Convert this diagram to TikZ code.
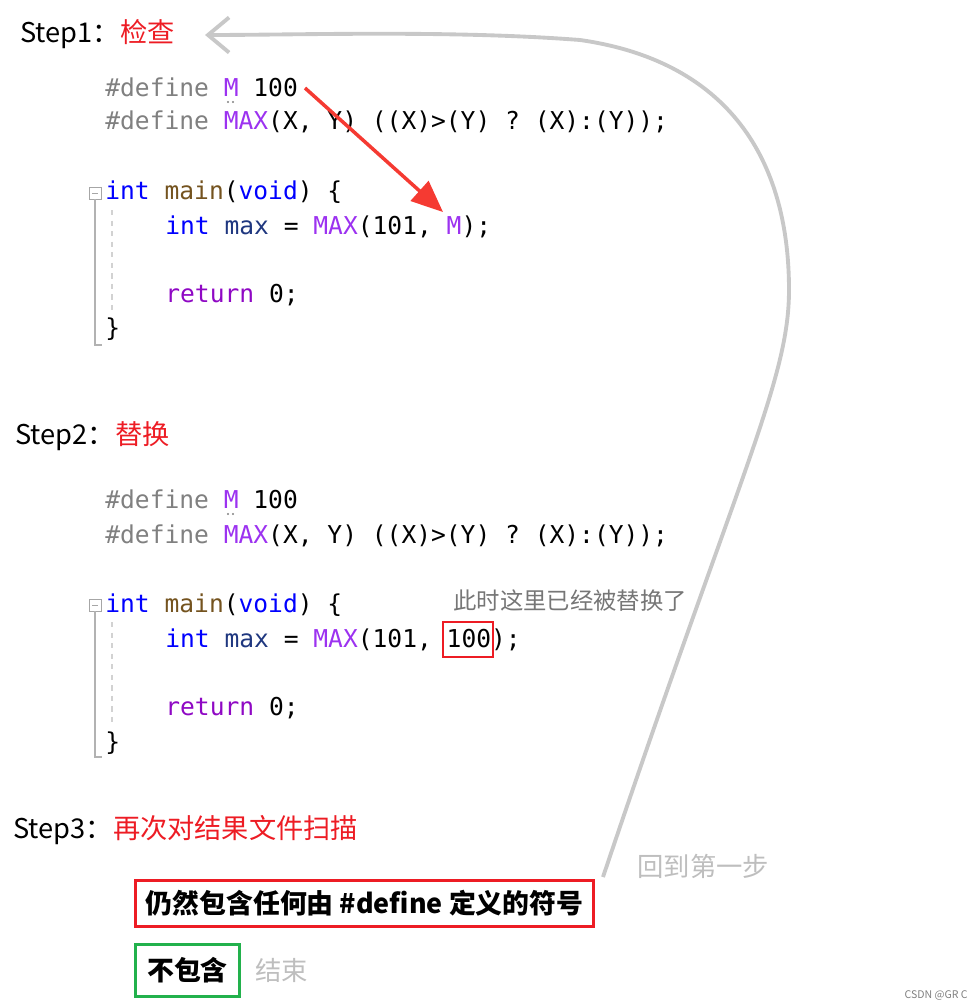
\documentclass[tikz,border=0pt]{standalone}
\usepackage{fontspec}
\setmainfont{Noto Sans CJK SC}
\setmonofont{DejaVu Sans Mono}
\usetikzlibrary{arrows.meta}
\usepackage{xcolor}
% Colors
\definecolor{stepRed}{RGB}{237,28,36}
\definecolor{arrowRed}{RGB}{245,58,50}
\definecolor{loopGray}{RGB}{200,200,200}
\definecolor{noteGray}{RGB}{118,118,118}
\definecolor{lightGray}{RGB}{190,190,190}
\definecolor{preGray}{RGB}{128,128,128}
\definecolor{macPurple}{RGB}{156,50,240}
\definecolor{kwBlue}{RGB}{0,0,255}
\definecolor{fnBrown}{RGB}{116,83,31}
\definecolor{varBlue}{RGB}{31,55,127}
\definecolor{retPurple}{RGB}{143,8,196}
\definecolor{boxGreen}{RGB}{34,177,76}
% Syntax colouring
\newcommand{\pre}[1]{\textcolor{preGray}{#1}}
\newcommand{\mac}[1]{\textcolor{macPurple}{#1}}
\newcommand{\kw}[1]{\textcolor{kwBlue}{#1}}
\newcommand{\fn}[1]{\textcolor{fnBrown}{#1}}
\newcommand{\vr}[1]{\textcolor{varBlue}{#1}}
\newcommand{\rt}[1]{\textcolor{retPurple}{#1}}
\tikzset{
    >=Stealth,
    % Texts
    steplbl/.style={anchor=base west, inner sep=0pt, font=\fontsize{15.5}{18}\selectfont},
    code/.style={anchor=base west, inner sep=0pt, font=\ttfamily\fontsize{14}{16}\selectfont},
    note/.style={anchor=west, inner sep=0pt, font=\fontsize{13.3}{16}\selectfont, text=noteGray},
    hint/.style={anchor=west, inner sep=0pt, font=\fontsize{15}{18}\selectfont, text=lightGray},
    % Editor gutter
    foldbox/.style={draw=gray!70, line width=0.5pt, minimum size=0.24cm, inner sep=0pt},
    gutter/.style={draw=gray!60, line width=0.8pt},
    guide/.style={draw=gray!35, dashed, line width=0.6pt},
    % Boxes & arrows
    condbox/.style={draw, line width=1.7pt, inner sep=0pt, font=\bfseries\fontsize{15.3}{18}\selectfont},
    loopflow/.style={draw=loopGray, line width=2.2pt, -{Straight Barb[length=12pt,width=20pt]}},
    hitflow/.style={draw=arrowRed, line width=2pt, -{Triangle[length=18pt,width=15pt]}}
}
\begin{document}
\begin{tikzpicture}[x=0.02cm, y=-0.02cm]
\useasboundingbox (0,0) rectangle (972,1007);

% Step 1
\node[steplbl] (step1) at (20,43) {Step1：\textcolor{stepRed}{检查}};
\node[code] (a1) at (105,96) {\pre{\#define} \mac{M} 100};
\node[code] (a2) at (105,130) {\pre{\#define} \mac{MAX}(X, Y) ((X)>(Y) ? (X):(Y));};
\node[code] (a3) at (105,199) {\kw{int} \fn{main}(\kw{void}) \{};
\node[code] (a4) at (165,234) {\kw{int} \vr{max} = \mac{MAX}(101, \mac{M});};
\node[code] (a5) at (165,302) {\rt{return} 0;};
\node[code] (a6) at (105,336) {\}};
\fill[preGray] (228,102) circle (0.7pt) (233,102) circle (0.7pt);
\node[foldbox] (fold1) at (95,193) {};
\draw[gray!70, line width=0.5pt] ([xshift=2pt]fold1.west) -- ([xshift=-2pt]fold1.east);
\draw[gutter] (fold1.south) |- (102,345);
\draw[guide] (112,210) -- (112,312);

\coordinate (hitStart) at (305,88);
\coordinate (hitEnd) at (443,212);
\draw[hitflow] (hitStart) -- (hitEnd);

% Step 2
\node[steplbl] (step2) at (15,444) {Step2：\textcolor{stepRed}{替换}};
\node[code] (b1) at (105,508) {\pre{\#define} \mac{M} 100};
\node[code] (b2) at (105,543) {\pre{\#define} \mac{MAX}(X, Y) ((X)>(Y) ? (X):(Y));};
\node[code] (b3) at (105,612) {\kw{int} \fn{main}(\kw{void}) \{};
\node[code] (b4) at (165,647) {\kw{int} \vr{max} = \mac{MAX}(101, 100);};
\node[code] (b5) at (165,715) {\rt{return} 0;};
\node[code] (b6) at (105,750) {\}};
\fill[preGray] (228,514) circle (0.7pt) (233,514) circle (0.7pt);
\node[foldbox] (fold2) at (95,605) {};
\draw[gray!70, line width=0.5pt] ([xshift=2pt]fold2.west) -- ([xshift=-2pt]fold2.east);
\draw[gutter] (fold2.south) |- (102,757);
\draw[guide] (112,622) -- (112,724);

\node[draw=stepRed, line width=1.2pt, minimum width=1cm, minimum height=0.7cm, inner sep=0pt] (repl) at (468,639.5) {};
\node[note] (note2) at (453,601) {此时这里已经被替换了};

% Step 3
\node[steplbl] (step3) at (13,838) {Step3：\textcolor{stepRed}{再次对结果文件扫描}};
\node[condbox, draw=stepRed, minimum width=9.18cm, minimum height=0.92cm] (cond) at (364.5,903) {仍然包含任何由 \#define 定义的符号};
\node[condbox, draw=boxGreen, minimum width=2.1cm, minimum height=1.04cm] (stop) at (187.5,970) {不包含};
\node[hint] (endlbl) at (255,970) {结束};
\node[hint] (backlbl) at (637,866) {回到第一步};

% Back to step 1
\coordinate (loopStart) at (603,877);
\coordinate (loopEnd) at (205,35);
\draw[loopflow] (loopStart) .. controls (740,470) and (789,380) .. (789,290)
    .. controls (789,150) and (720,60) .. (580,40)
    .. controls (450,30) and (300,35) .. (loopEnd);

\node[anchor=east, inner sep=0pt, font=\fontsize{6}{7}\selectfont, text=gray] (mark1) at (968,995) {CSDN @GR C};
\end{tikzpicture}
\end{document}
